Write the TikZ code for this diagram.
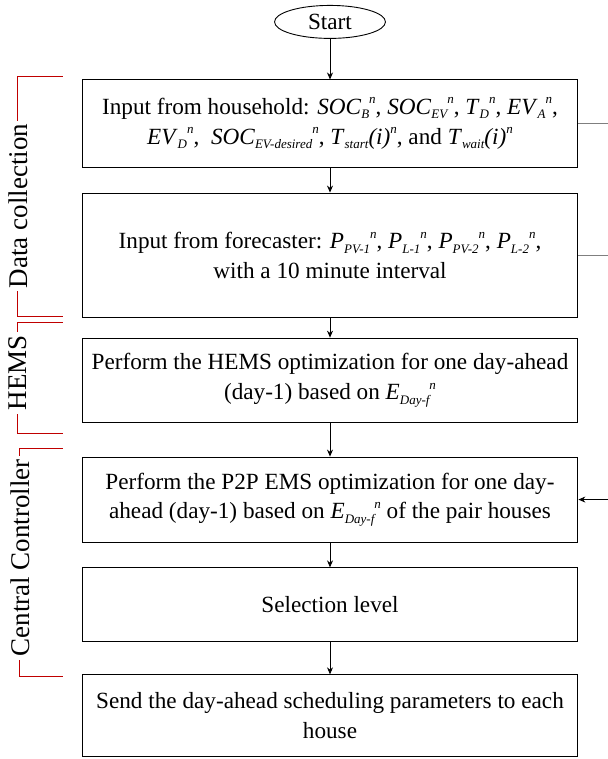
\documentclass[tikz,border=0pt]{standalone}
\usepackage{fontspec}
\setmainfont{Liberation Serif}
\usetikzlibrary{positioning,arrows.meta,shapes.geometric}
\definecolor{bracketred}{HTML}{C00000}
\definecolor{linegray}{HTML}{7F7F7F}
\newcommand{\subtx}[1]{\raisebox{-0.2em}{\fontsize{13}{13}\selectfont\itshape #1}}
\newcommand{\suptx}{\raisebox{0.45em}{\fontsize{13}{13}\selectfont\itshape n}}
\newcommand{\sv}[2]{\textit{#1}\subtx{#2}\suptx}
\newcommand{\tv}[1]{\textit{T}\subtx{#1}\textit{(i)}\suptx}

\begin{document}
\begin{tikzpicture}[font=\fontsize{23.2}{30}\selectfont,
  stepbox/.style={draw=black,line width=0.9pt,minimum width=17.43cm,align=center,inner sep=0pt},
  startnode/.style={ellipse,draw=black,line width=0.9pt,minimum width=3.9cm,minimum height=1.16cm,inner sep=0pt},
  phase/.style={rotate=90,font=\fontsize{27}{32}\selectfont,inner sep=3pt},
  brk/.style={draw=bracketred,line width=0.9pt},
  ar/.style={-{Stealth[length=7pt,width=6pt]},line width=0.8pt}]
\useasboundingbox (0,0) rectangle (21.37,-26.68);
% flow
\node[startnode] (start) at (11.60,-0.77) {Start};
\node[stepbox,minimum height=3.06cm] (house) at (11.60,-4.34) {Input from household: \sv{SOC}{B}, \sv{SOC}{EV}, \sv{T}{D}, \sv{EV}{A},\\ \sv{EV}{D}, \ \sv{SOC}{EV-desired}, \tv{start}, and \tv{wait}};
\node[stepbox,minimum height=4.39cm] (fcast) at (11.60,-8.98) {Input from forecaster: \sv{P}{PV-1}, \sv{P}{L-1}, \sv{P}{PV-2}, \sv{P}{L-2},\\ with a 10 minute interval};
\node[stepbox,minimum height=2.95cm] (hems) at (11.60,-13.36) {Perform the HEMS optimization for one day-ahead\\ (day-1) based on \sv{E}{Day-f}};
\node[stepbox,minimum height=2.99cm] (ptp) at (11.60,-17.56) {Perform the P2P EMS optimization for one day-\\ ahead (day-1) based on \sv{E}{Day-f} of the pair houses};
\node[stepbox,minimum height=2.60cm] (sel) at (11.60,-21.26) {Selection level};
\node[stepbox,minimum height=2.88cm] (send) at (11.60,-25.16) {Send the day-ahead scheduling parameters to each\\ house};
\draw[ar] (start) -- (house);
\draw[ar] (house) -- (fcast);
\draw[ar] (fcast) -- (hems);
\draw[ar] (hems) -- (ptp);
\draw[ar] (ptp) -- (sel);
\draw[ar] (sel) -- (send);
% lines leaving on the right
\coordinate (rOne) at (21.37,-4.34);
\coordinate (rTwo) at (21.37,-8.98);
\coordinate (rThree) at (21.37,-17.56);
\draw[linegray,line width=0.8pt] (house.east) -- (rOne);
\draw[linegray,line width=0.8pt] (fcast.east) -- (rTwo);
\draw[ar] (rThree) -- (ptp.east);
% phase brackets
\node[phase] (dc) at (0.63,-7.24) {Data collection};
\node[phase] (hm) at (0.63,-13.11) {HEMS};
\node[phase] (cc) at (0.70,-19.61) {Central Controller};
\coordinate (dcA) at (2.21,-2.67);
\coordinate (dcB) at (2.21,-11.14);
\coordinate (hmA) at (2.21,-11.35);
\coordinate (hmB) at (2.21,-15.22);
\coordinate (ccA) at (2.21,-15.78);
\coordinate (ccB) at (2.21,-23.79);
\draw[brk] (dcA) -| (dc.east);
\draw[brk] (dcB) -| (dc.west);
\draw[brk] (hmA) -| (hm.east);
\draw[brk] (hmB) -| (hm.west);
\draw[brk] (ccA) -| (cc.east);
\draw[brk] (ccB) -| (cc.west);
\end{tikzpicture}
\end{document}
